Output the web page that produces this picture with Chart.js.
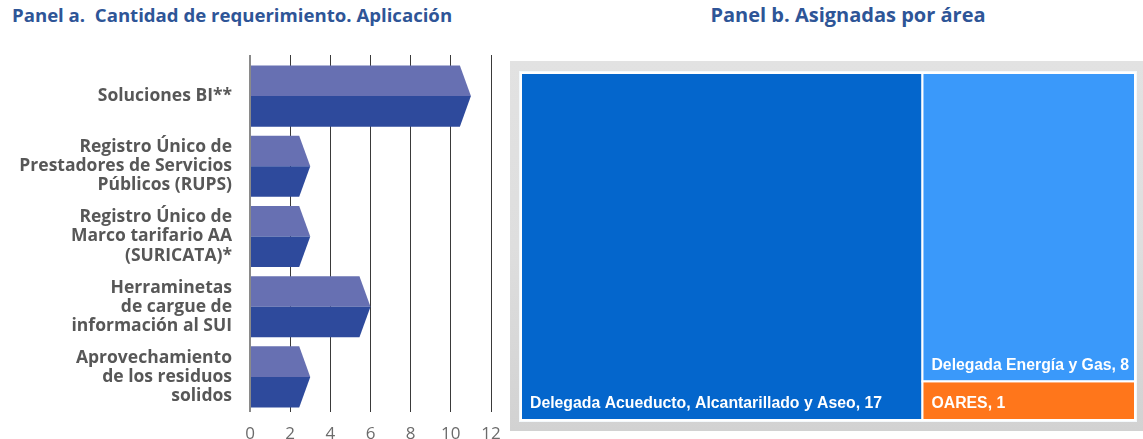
<!DOCTYPE html>
<html>
<head>
<meta charset="utf-8">
<script src="https://cdn.jsdelivr.net/npm/chart.js@4.4.1/dist/chart.umd.min.js"></script>
<style>
  html, body { margin: 0; padding: 0; background: #fff; }
  body { width: 1143px; height: 439px; position: relative; overflow: hidden; font-family: "Open Sans", sans-serif; }
  .ttl { position: absolute; top: 2px; font: bold 18.6px "Open Sans", sans-serif; color: #2E5597; white-space: pre; }
  #boxA { position: absolute; left: 0; top: 40px; width: 500px; height: 399px; }
  #boxB { position: absolute; left: 500px; top: 40px; width: 643px; height: 399px; }
</style>
</head>
<body>
<div class="ttl" style="left:12px">Panel a.  Cantidad de requerimiento. Aplicación</div>
<div class="ttl" style="left:548px;width:600px;text-align:center;font-size:20px;top:1px">Panel b. Asignadas por área</div>
<div id="boxA"><canvas id="chartA"></canvas></div>
<div id="boxB"><canvas id="chartB"></canvas></div>
<script>
// Panel a data
var appLabels = [
    ['Soluciones BI**'],
    ['Registro Único de', 'Prestadores de Servicios', 'Públicos (RUPS)'],
    ['Registro Único de', 'Marco tarifario AA', '(SURICATA)*'],
    ['Herraminetas', 'de cargue de', 'información al SUI'],
    ['Aprovechamiento', 'de los residuos', 'solidos']
];
var appValues = [11, 3, 3, 6, 3];
var xTicks = [0, 2, 4, 6, 8, 10, 12];

// Panel b data
var areaNames = ['Delegada Acueducto, Alcantarillado y Aseo', 'Delegada Energía y Gas', 'OARES'];
var areaValues = [17, 8, 1];
var areaColors = ['#0466CC', '#3A99FA', '#FF761B'];

// arrow shaped bars, two tones
const arrowBars = {
    id: 'arrowBars',
    afterDatasetsDraw(chart) {
        const ctx = chart.ctx;
        const xs = chart.scales.x;
        const depth = xs.getPixelForValue(0.55) - xs.getPixelForValue(0);
        chart.getDatasetMeta(0).data.forEach(function (bar) {
            const p = bar.getProps(['x', 'y', 'base', 'height'], true);
            const top = p.y - p.height / 2, bot = p.y + p.height / 2;
            const tip = p.x, sh = p.x - depth;
            ctx.save();
            ctx.fillStyle = '#6770B2';
            ctx.beginPath();
            ctx.moveTo(p.base, top); ctx.lineTo(sh, top); ctx.lineTo(tip, p.y); ctx.lineTo(p.base, p.y);
            ctx.closePath(); ctx.fill();
            ctx.fillStyle = '#2E4A9C';
            ctx.beginPath();
            ctx.moveTo(p.base, p.y); ctx.lineTo(tip, p.y); ctx.lineTo(sh, bot); ctx.lineTo(p.base, bot);
            ctx.closePath(); ctx.fill();
            ctx.restore();
        });
        // zero line on top
        ctx.save();
        ctx.strokeStyle = '#8a8a8a';
        ctx.lineWidth = 2;
        const x0 = xs.getPixelForValue(0);
        ctx.beginPath(); ctx.moveTo(x0, chart.chartArea.top - 6); ctx.lineTo(x0, chart.chartArea.bottom); ctx.stroke();
        ctx.restore();
    }
};

new Chart(document.getElementById('chartA'), {
    type: 'bar',
    data: {
        labels: appLabels,
        datasets: [{
            data: appValues,
            backgroundColor: 'rgba(0,0,0,0)',
            barPercentage: 0.87,
            categoryPercentage: 1
        }]
    },
    options: {
        indexAxis: 'y',
        responsive: true,
        maintainAspectRatio: false,
        animation: false,
        layout: { padding: { top: 15, right: 9, left: 0, bottom: 0 } },
        plugins: { legend: { display: false }, tooltip: { enabled: false } },
        scales: {
            x: {
                min: 0, max: 12,
                afterBuildTicks(scale) { scale.ticks = xTicks.map(v => ({ value: v })); },
                afterFit(scale) { scale.height = 27; scale.paddingLeft = 0; scale.paddingRight = 0; },
                grid: { color: '#3a3a3a', lineWidth: 1, drawTicks: false },
                border: { display: false },
                ticks: { color: '#6b6b6b', padding: 12, font: { family: 'Open Sans', size: 17 } }
            },
            // top axis only for the short grid stubs above the plot
            x2: {
                position: 'top',
                min: 0, max: 12,
                afterBuildTicks(scale) { scale.ticks = xTicks.map(v => ({ value: v })); },
                afterFit(scale) { scale.height = 6; scale.paddingLeft = 0; scale.paddingRight = 0; },
                grid: { color: '#3a3a3a', lineWidth: 1, drawOnChartArea: false, drawTicks: true, tickLength: 6 },
                border: { display: false },
                ticks: { display: false }
            },
            y: {
                afterFit(scale) { scale.width = 250; scale.paddingTop = 0; scale.paddingBottom = 0; },
                grid: { display: false },
                border: { display: false },
                ticks: {
                    color: '#575757', padding: 10,
                    font: { family: 'Open Sans', size: 17.5, weight: 'bold', lineHeight: 1.09 }
                }
            }
        }
    },
    plugins: [arrowBars]
});

// simple treemap: first area takes a full column, the rest stack in the second column
const treeRects = {
    id: 'treeRects',
    beforeDatasetsDraw(chart) {
        const ctx = chart.ctx, a = chart.chartArea;
        const xs = chart.scales.x, ys = chart.scales.y;
        // frame
        ctx.save();
        const g = ctx.createLinearGradient(0, a.top - 12, 0, a.bottom + 11);
        g.addColorStop(0, '#e2e2e2'); g.addColorStop(0.5, '#dedede'); g.addColorStop(1, '#d2d2d2');
        ctx.fillStyle = g;
        ctx.fillRect(a.left - 11, a.top - 12, a.right - a.left + 30, a.bottom - a.top + 23);
        ctx.fillStyle = '#f4f9fc';
        ctx.fillRect(a.left - 2, a.top - 2, a.right - a.left + 4, a.bottom - a.top + 4);

        const total = areaValues.reduce((s, v) => s + v, 0);
        const rest = total - areaValues[0];
        const rects = [];
        rects.push({ x0: 0, x1: areaValues[0], y0: 0, y1: 1 });
        let acc = 0;
        for (let i = 1; i < areaValues.length; i++) {
            rects.push({ x0: areaValues[0], x1: total, y0: acc / rest, y1: (acc + areaValues[i]) / rest });
            acc += areaValues[i];
        }
        rects.forEach(function (r, i) {
            const L = xs.getPixelForValue(r.x0), R = xs.getPixelForValue(r.x1);
            const T = ys.getPixelForValue(r.y0), B = ys.getPixelForValue(r.y1);
            ctx.fillStyle = areaColors[i];
            ctx.fillRect(L, T, R - L, B - T);
            ctx.strokeStyle = '#ffffff';
            ctx.lineWidth = 2;
            ctx.strokeRect(L, T, R - L, B - T);
            ctx.fillStyle = '#ffffff';
            ctx.font = 'bold 15.8px "Liberation Sans", Arial, sans-serif';
            ctx.textBaseline = 'middle';
            ctx.textAlign = 'left';
            ctx.fillText(areaNames[i] + ', ' + areaValues[i], L + 9, B - 16);
        });
        ctx.restore();
    }
};

new Chart(document.getElementById('chartB'), {
    type: 'scatter',
    data: { datasets: [{ data: [] }] },
    options: {
        responsive: true,
        maintainAspectRatio: false,
        animation: false,
        layout: { padding: { left: 21, right: 8, top: 33, bottom: 19 } },
        plugins: { legend: { display: false }, tooltip: { enabled: false } },
        scales: {
            x: { display: false, min: 0, max: 26 },
            y: { display: false, min: 0, max: 1, reverse: true }
        }
    },
    plugins: [treeRects]
});
</script>
</body>
</html>
